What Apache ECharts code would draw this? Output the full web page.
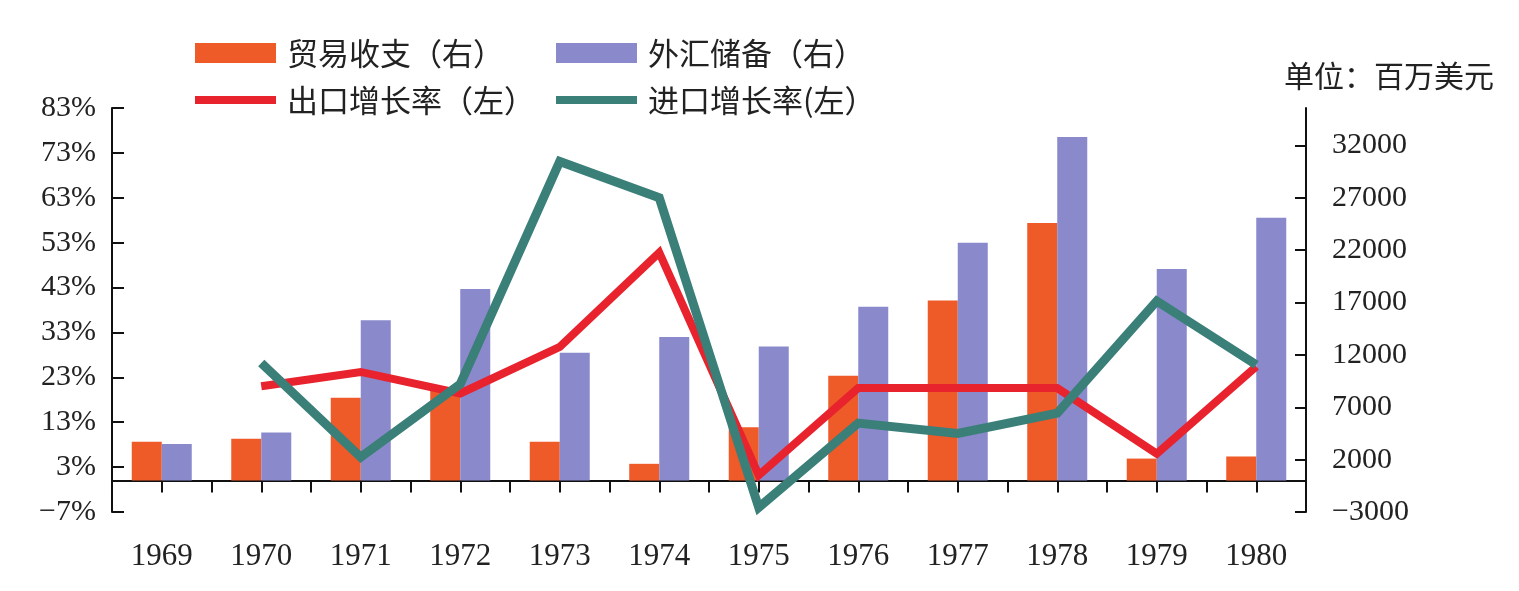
<!DOCTYPE html>
<html>
<head>
<meta charset="utf-8">
<script src="https://cdn.jsdelivr.net/npm/echarts@6/dist/echarts.min.js"></script>
<style>
html,body{margin:0;padding:0;background:#fff;}
#chart{width:1519px;height:591px;}
</style>
</head>
<body>
<div id="chart"></div>
<script>
// ---- data ----
const years = ['1969','1970','1971','1972','1973','1974','1975','1976','1977','1978','1979','1980'];
const tradeBalance = [3700, 4000, 7900, 8700, 3700, 1600, 5100, 10000, 17200, 24600, 2100, 2300];     // 贸易收支（右）
const fxReserves   = [3500, 4600, 15300, 18300, 12200, 13700, 12800, 16600, 22700, 32800, 20200, 25100]; // 外汇储备（右）
const exportGrowth = [null, 21, 24.2, 19.4, 29.8, 50.8, 1.2, 20.6, 20.6, 20.6, 6, 25.4];   // 出口增长率（左）
const importGrowth = [null, 26.2, 5.2, 21.5, 71.1, 63, -6, 12.8, 10.5, 15, 40, 25.8];      // 进口增长率(左）
const rightTicks = [-3000, 2000, 7000, 12000, 17000, 22000, 27000, 32000];
const seriesNames = ['贸易收支（右）', '外汇储备（右）', '出口增长率（左）', '进口增长率(左）'];
const unitLabel = '单位：百万美元';

const SERIF = '"Liberation Serif","Times New Roman",serif';
const CJK = '"Noto Sans CJK SC",sans-serif';
const numLabel = {fontFamily: SERIF, fontSize: 30, color: '#222'};
const fmtMinus = s => String(s).replace('-', '−');

const chart = echarts.init(document.getElementById('chart'), null, {renderer: 'canvas'});

function legendAt(name, left, top, h) {
  return {
    data: [{name: name, icon: 'rect'}],
    left: left, top: top, padding: 0,
    orient: 'horizontal',
    itemWidth: 81, itemHeight: h,
    selectedMode: false,
    textStyle: {fontFamily: CJK, fontSize: 31, color: '#222', lineHeight: 32, padding: [0, 0, 0, 6]}
  };
}

const option = {
  backgroundColor: '#fff',
  animation: false,
  title: {
    text: unitLabel, left: 1284, top: 61, padding: 0,
    textStyle: {fontFamily: CJK, fontSize: 30, fontWeight: 'normal', color: '#222'}
  },
  legend: [
    legendAt(seriesNames[0], 195, 37, 20),
    legendAt(seriesNames[1], 556, 37, 20),
    legendAt(seriesNames[2], 195, 84, 8),
    legendAt(seriesNames[3], 556, 84, 8)
  ],
  grid: {left: 112, right: 213, top: 108, bottom: 79, containLabel: false},
  xAxis: [
    {
      type: 'category', data: years, position: 'bottom',
      axisLine: {show: false, onZero: false},
      axisTick: {show: false},
      axisLabel: Object.assign({}, numLabel, {margin: 29, interval: 0, fontSize: 31})
    },
    {
      type: 'category', data: years, position: 'bottom',
      axisLine: {show: true, onZero: true, lineStyle: {color: '#111', width: 2}},
      axisTick: {show: true, length: 12, alignWithLabel: false, lineStyle: {color: '#111', width: 2}},
      axisLabel: {show: false}
    },
    {
      type: 'category', data: years, position: 'bottom',
      axisLine: {show: false, onZero: true},
      axisTick: {show: true, length: 12, alignWithLabel: true, lineStyle: {color: '#111', width: 2}},
      axisLabel: {show: false}
    }
  ],
  yAxis: [
    {
      type: 'value', position: 'left', min: -7, max: 83, interval: 10,
      splitLine: {show: false},
      axisLine: {show: true, lineStyle: {color: '#111', width: 2}},
      axisTick: {show: true, inside: true, length: 12, lineStyle: {color: '#111', width: 2}},
      axisLabel: Object.assign({margin: 16, formatter: v => fmtMinus(v) + '%'}, numLabel)
    },
    {
      type: 'value', position: 'right', min: -3000, max: -3000 + 3000 * 90 / 7, interval: 5000,
      splitLine: {show: false},
      axisLine: {show: true, onZero: false, lineStyle: {color: '#111', width: 2}},
      axisTick: {show: true, inside: true, length: 11, customValues: rightTicks, lineStyle: {color: '#111', width: 2}},
      axisLabel: Object.assign({margin: 26, customValues: rightTicks, formatter: v => fmtMinus(v)}, numLabel)
    }
  ],
  series: [
    {
      name: seriesNames[0], type: 'bar', xAxisIndex: 0, yAxisIndex: 1,
      data: tradeBalance, barWidth: 30, barGap: '0%',
      itemStyle: {color: '#EE5A28'}
    },
    {
      name: seriesNames[1], type: 'bar', xAxisIndex: 0, yAxisIndex: 1,
      data: fxReserves, barWidth: 30, barGap: '0%',
      itemStyle: {color: '#8A89CC'}
    },
    {
      name: seriesNames[2], type: 'line', xAxisIndex: 0, yAxisIndex: 0,
      data: exportGrowth, symbol: 'none', connectNulls: false,
      itemStyle: {color: '#E8232E'},
      lineStyle: {color: '#E8232E', width: 8, join: 'miter', cap: 'butt'}
    },
    {
      name: seriesNames[3], type: 'line', xAxisIndex: 0, yAxisIndex: 0,
      data: importGrowth, symbol: 'none', connectNulls: false,
      itemStyle: {color: '#3B7F79'},
      lineStyle: {color: '#3B7F79', width: 9, join: 'miter', cap: 'butt'}
    }
  ]
};
chart.setOption(option);
</script>
</body>
</html>
